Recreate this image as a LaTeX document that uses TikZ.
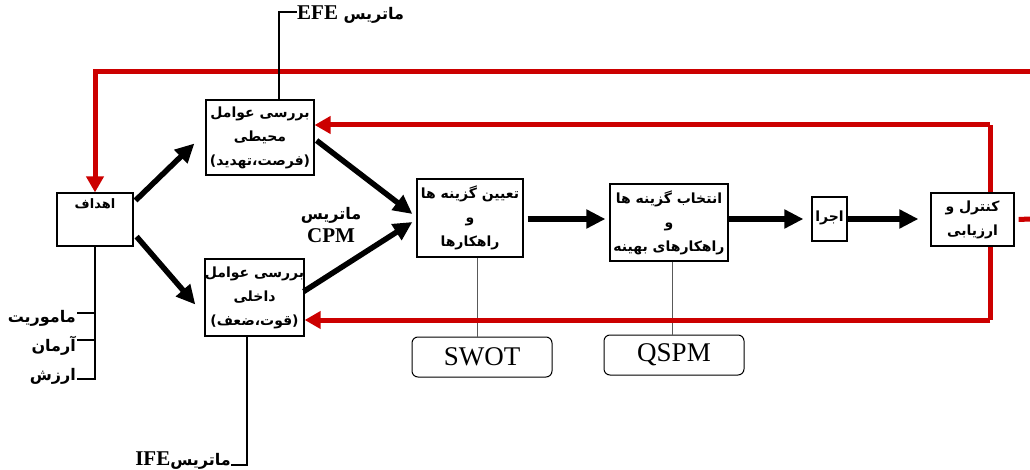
\documentclass[tikz,border=0pt]{standalone}
\usepackage{fontspec}
\setmainfont{Liberation Serif}
\newfontfamily\arabicfont[Script=Arabic]{DejaVu Sans}
\TeXXeTstate=1
\usetikzlibrary{arrows.meta,calc}
\newcommand{\fa}[1]{\beginR #1\endR}
\definecolor{myred}{RGB}{204,0,0}
\begin{document}
\begin{tikzpicture}[x=1pt,y=-1pt,
  box/.style={draw, line width=1.2pt, fill=white, inner sep=0pt, align=center,
    font=\arabicfont\bfseries\fontsize{14}{24}\selectfont},
  rbox/.style={draw, line width=1pt, rounded corners=6pt, fill=white, inner sep=0pt,
    minimum width=140pt, minimum height=40pt, font=\fontsize{27}{27}\selectfont},
  blk/.style={line width=5.5pt, -{Triangle[length=19pt,width=18pt]}},
  redln/.style={draw=myred, line width=5pt},
  redarr/.style={redln, -{Triangle[length=16pt,width=17pt]}},
  thin/.style={line width=1.2pt},
  grayln/.style={draw=black!65, line width=1pt},
  lbl/.style={inner sep=0pt, font=\arabicfont\bfseries\fontsize{16}{16}\selectfont},
]
\useasboundingbox (0,0) rectangle (1030,470);

% coordinates for free ends
\coordinate (rtop) at (1030,72);
\coordinate (rstub) at (1030,219);
\coordinate (lt) at (990,125);
\coordinate (lb) at (990,320);

% boxes
\node[box, minimum width=76pt, minimum height=53pt] (goal) at (95,219.5) {};
\node[box, minimum width=108pt, minimum height=75pt] (env) at (260,137.5)
  {\fa{بررسی عوامل}\\\fa{محیطی}\\\fa{(فرصت،تهدید)}};
\node[box, minimum width=97pt, minimum height=77pt] (int) at (254.5,297.5)
  {\fa{بررسی عوامل}\\\fa{داخلی}\\\fa{(قوت،ضعف)}};
\node[box, minimum width=106pt, minimum height=78pt] (opt) at (470,218)
  {\fa{تعیین گزینه ها}\\\fa{و}\\\fa{راهکارها}};
\node[box, minimum width=118pt, minimum height=77pt] (sel) at (669,222.5)
  {\fa{انتخاب گزینه ها}\\\fa{و}\\\fa{راهکارهای بهینه}};
\node[box, minimum width=35pt, minimum height=44pt] (exec) at (829.5,219)
  {\raisebox{6pt}{\fa{اجرا}}};
\node[rbox] (swot) at (482,357) {SWOT};
\node[rbox] (qspm) at (674,355) {QSPM};

% SWOT / QSPM connectors (under the red line)
\coordinate (s1) at ($(opt.south)+(7,0)$);
\coordinate (s2) at ($(sel.south)+(3,0)$);
\draw[grayln] (s1) -- (s1 |- swot.north);
\draw[grayln] (s2) -- (s2 |- qspm.north);

% red feedback lines
\draw[redarr] (rtop) -| (goal.north);
\draw[redln] (lb) -- (lt);
\draw[redarr] (lt) -- (lt -| env.east);
\draw[redarr] (lb) -- (lb -| int.east);

\node[box, minimum width=83pt, minimum height=53pt] (ctrl) at (972.5,219.5)
  {\fa{کنترل و}\\\fa{ارزیابی}};
\coordinate (cs) at ($(ctrl.east)+(4,0)$);
\draw[redln] (cs) -- (rstub);

% text of goal box
\node[lbl, font=\arabicfont\bfseries\fontsize{13}{13}\selectfont, anchor=north] (goalt)
  at ($(goal.north)+(0,6)$) {\fa{اهداف}};

% black arrows
\draw[blk] ($(goal.north east)+(2,8)$) -- ($(env.west)+(-11,6)$);
\draw[blk] ($(goal.south east)+(3,-10)$) -- ($(int.west)+(-9,7)$);
\draw[blk] ($(env.east)+(2,3)$) -- ($(opt.west)+(-4,-4)$);
\draw[blk] ($(int.east)+(-1,-6)$) -- ($(opt.west)+(-4,4)$);
\draw[blk] ($(opt.east)+(4,1)$) -- ($(sel.west)+(-4,-3.5)$);
\draw[blk] ($(sel.east)+(0,-3.5)$) -- ($(exec.west)+(-8,0)$);
\draw[blk] (exec.east) -- ($(ctrl.west)+(-12,-0.5)$);

% CPM label
\node[lbl, align=center] (cpm) at (331,225)
  {\fa{ماتریس}\\[4pt]{\rmfamily\bfseries\fontsize{21}{21}\selectfont CPM}};

% EFE
\coordinate (efeC) at (279,12);
\node[lbl, anchor=north west] (efe) at (297,6)
  {{\rmfamily\bfseries\fontsize{21}{21}\selectfont EFE} \fa{ماتریس}};
\draw[thin] (env.north -| efeC) -- (efeC) -- (efeC -| efe.west);

% IFE
\coordinate (ifeC) at (247,465);
\node[lbl, anchor=south east] (ife) at (231,470)
  {{\rmfamily\bfseries\fontsize{21}{21}\selectfont IFE}\fa{ماتریس}};
\draw[thin] (int.south -| ifeC) -- (ifeC) -- (ifeC -| ife.east);

% left branch
\coordinate (t1) at (77,313);
\coordinate (t2) at (77,340);
\coordinate (t3) at (77,379);
\draw[thin] (goal.south) |- (t3);
\draw[thin] (goal.south |- t1) -- (t1);
\draw[thin] (goal.south |- t2) -- (t2);
\node[lbl, anchor=east] (m1) at (76,318) {\fa{ماموریت}};
\node[lbl, anchor=east] (m2) at (76,346) {\fa{آرمان}};
\node[lbl, anchor=east] (m3) at (76,376) {\fa{ارزش}};
\end{tikzpicture}
\end{document}
